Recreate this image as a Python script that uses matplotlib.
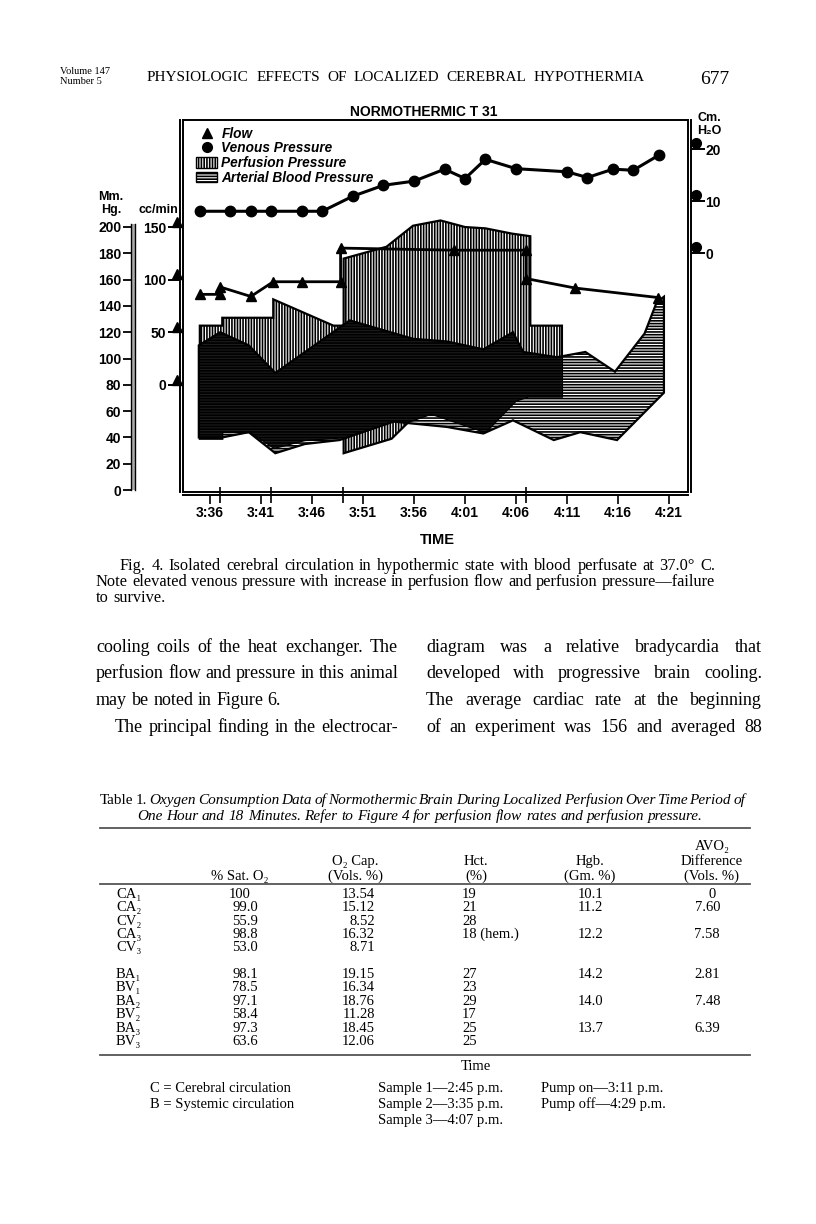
import numpy as np
import matplotlib
matplotlib.use('Agg')
import matplotlib.pyplot as plt
from matplotlib.lines import Line2D
from matplotlib.patches import Patch

W, H = 816, 1224
plt.rcParams['hatch.linewidth'] = 1.2

# ---- chart data, time in minutes after 3:36 p.m. ----
time_labels = ['3:36', '3:41', '3:46', '3:51', '3:56', '4:01', '4:06', '4:11', '4:16', '4:21']
time_ticks = [0, 5, 10, 15, 20, 25, 30, 35, 40, 45]
event_ticks = [1, 6, 13, 31]

flow_t = [-1, 1, 1, 4, 6.2, 9, 12.8, 12.8, 23.9, 31, 31, 35.8, 43.9]
flow_cc = [86, 86, 93, 84, 98, 98, 98, 130, 128, 128, 101, 92, 83]

venous_t = [-1, 2, 4, 6, 9, 11, 14, 17, 20, 23, 25, 27, 30, 35, 37, 39.5, 41.5, 44]
venous_cm = [8.1, 8.1, 8.1, 8.1, 8.1, 8.1, 11.0, 13.1, 13.9, 16.2, 14.4, 18.1,
             16.3, 15.7, 14.6, 16.2, 16.0, 18.9]

# perfusion pressure band (mm Hg)
perf_hi_t = [-1, 1.2, 1.2, 6.2, 6.2, 12.1, 13.1, 13.1, 17.3, 19.9, 22.6, 25.0, 27.0, 29.6, 31.4, 31.4, 34.5]
perf_hi = [125, 125, 131, 131, 145, 125, 125, 176, 185, 201, 205, 200, 199, 195, 193, 125, 125]
perf_lo_t = [-1, 1.2, 1.2, 4.0, 6.3, 9.3, 13.1, 13.1, 17.8, 19.5, 21.7, 27.0, 30.0, 31.2, 34.5]
perf_lo = [39, 39, 44, 44, 32, 38, 40, 28, 39, 52, 58, 44, 68, 71, 71]

# arterial blood pressure band (mm Hg)
art_hi_t = [-1.1, 1.0, 3.8, 6.4, 13.7, 19.9, 23.2, 26.8, 29.7, 30.7, 34.0, 36.8, 39.7, 42.6, 43.8, 44.5]
art_hi = [110, 120, 110, 89, 129, 115, 113, 107, 120, 105, 101, 105, 90, 119, 143, 147]
art_lo_t = [-1.1, 1.2, 3.8, 6.4, 9.3, 12.7, 18.0, 23.2, 26.8, 29.7, 33.7, 36.3, 39.9, 44.5]
art_lo = [40, 40, 44, 28, 35, 38, 52, 48, 43, 53, 38, 44, 38, 74]

mmhg_ticks = list(range(0, 201, 20))
cc_ticks = [0, 50, 100, 150]
h2o_ticks = [0, 10, 20]

# ---- table data ----
row_names = ['CA₁', 'CA₂', 'CV₂', 'CA₃', 'CV₃', 'BA₁', 'BV₁', 'BA₂', 'BV₂', 'BA₃', 'BV₃']
sat_o2 = ['100', '99.0', '55.9', '98.8', '53.0', '98.1', '78.5', '97.1', '58.4', '97.3', '63.6']
o2_cap = ['13.54', '15.12', '8.52', '16.32', '8.71', '19.15', '16.34', '18.76', '11.28', '18.45', '12.06']
hct = ['19', '21', '28', '18 (hem.)', '', '27', '23', '29', '17', '25', '25']
hgb = ['10.1', '11.2', '', '12.2', '', '14.2', '', '14.0', '', '13.7', '']
avo2 = ['0', '7.60', '', '7.58', '', '2.81', '', '7.48', '', '6.39', '']


def cc2mm(c):
    return 80 + 0.8 * np.asarray(c, dtype=float)


def mm2cc(m):
    return (np.asarray(m, dtype=float) - 80) / 0.8


def cm2mm(c):
    return 180 + 3.95 * np.asarray(c, dtype=float)


def mm2cm(m):
    return (np.asarray(m, dtype=float) - 180) / 3.95


def fx(x):
    return x / W


def fy(y):
    return 1 - y / H


fig = plt.figure(figsize=(W / 100, H / 100), dpi=100)
fig.patch.set_facecolor('white')
sans = ['Liberation Sans', 'DejaVu Sans']
serif = ['Liberation Serif', 'DejaVu Serif']

# ---- chart ----
ax = fig.add_axes([fx(183), fy(492), 505 / W, 372 / H])
ax.set_xlim(-2.65, 46.86)
ax.set_ylim(-1.5, 281.4)
ax.set_xticks([])
ax.set_yticks([])
for s in ax.spines.values():
    s.set_linewidth(1.4)

perf_x = np.r_[perf_hi_t, perf_lo_t[::-1]]
perf_y = np.r_[perf_hi, perf_lo[::-1]]
art_x = np.r_[art_hi_t, art_lo_t[::-1]]
art_y = np.r_[art_hi, art_lo[::-1]]

perf_poly = ax.fill(perf_x, perf_y, facecolor='white', edgecolor='black',
                    hatch='||||||', lw=1.6, zorder=2)[0]
# where both bands overlap the print is nearly solid black
overlap = ax.fill(art_x, art_y, facecolor='#1c1c1c', edgecolor='none', zorder=2.5)[0]
overlap.set_clip_path(perf_poly)
ax.fill(art_x, art_y, facecolor='none', edgecolor='black', hatch='------', lw=1.6, zorder=3)
ax.plot(flow_t, cc2mm(flow_cc), '-^', color='black', lw=2, ms=7, zorder=5)
ax.plot(venous_t, cm2mm(venous_cm), '-o', color='black', lw=2.2, ms=7.5, zorder=5)

# markers beside the flow and venous scales
ax.plot(np.full(len(cc_ticks), -3.25), cc2mm(cc_ticks) + 4, '^', color='black', ms=7, clip_on=False)
ax.plot(np.full(len(h2o_ticks), 47.65), cm2mm(h2o_ticks) + 5, 'o', color='black', ms=7, clip_on=False)

sec_cc = ax.secondary_yaxis(-0.006, functions=(mm2cc, cc2mm))
sec_cc.set_yticks(cc_ticks, [str(v) for v in cc_ticks], fontweight='bold', fontsize=10, family=sans)
sec_cc.tick_params(length=9, width=1.4, pad=1)
sec_cc.spines['left'].set_linewidth(1.4)

sec_h = ax.secondary_yaxis(1.006, functions=(mm2cm, cm2mm))
sec_h.set_yticks(h2o_ticks, [str(v) for v in h2o_ticks], fontweight='bold', fontsize=10, family=sans)
sec_h.tick_params(length=10, width=1.4, pad=0.5)
sec_h.spines['right'].set_linewidth(1.4)

sec_t = ax.secondary_xaxis(-0.008)
sec_t.set_xticks(time_ticks, time_labels, fontweight='bold', fontsize=10, family=sans)
sec_t.set_xticks(event_ticks, minor=True)
sec_t.tick_params(which='major', length=6.5, width=1.2, pad=1.5)
sec_t.tick_params(which='minor', direction='inout', length=11, width=1.2)
sec_t.spines['bottom'].set_linewidth(1.4)

axm = fig.add_axes([fx(131), fy(490), 4 / W, 266 / H])
axm.set_ylim(0, 266 / 1.315)
axm.set_facecolor('#aaaaaa')
axm.set_xticks([])
axm.set_yticks(mmhg_ticks, [str(v) for v in mmhg_ticks], fontweight='bold', fontsize=10, family=sans)
axm.tick_params(length=6, width=1.3, pad=1)
for k in ['top', 'bottom']:
    axm.spines[k].set_visible(False)
for k in ['left', 'right']:
    axm.spines[k].set_linewidth(1)

handles = [Line2D([], [], marker='^', ls='none', color='black', ms=7),
           Line2D([], [], marker='o', ls='none', color='black', ms=7),
           Patch(facecolor='white', edgecolor='black', hatch='||||||'),
           Patch(facecolor='white', edgecolor='black', hatch='------')]
ax.legend(handles, ['Flow', 'Venous Pressure', 'Perfusion Pressure', 'Arterial Blood Pressure'],
          loc='upper left', bbox_to_anchor=(0.025, 0.982), frameon=False,
          prop=dict(family=sans, weight='bold', style='italic', size=9.8),
          handlelength=1.6, handleheight=0.8, handletextpad=0.3, labelspacing=0.05,
          borderpad=0, borderaxespad=0)

fig.text(fx(424), fy(112), 'NORMOTHERMIC T 31', ha='center', va='center', weight='bold', size=10, family=sans)
fig.text(fx(111), fy(197), 'Mm.', ha='center', va='center', weight='bold', size=9, family=sans)
fig.text(fx(111), fy(210), 'Hg.', ha='center', va='center', weight='bold', size=9, family=sans)
fig.text(fx(178), fy(210), 'cc/min', ha='right', va='center', weight='bold', size=9, family=sans)
fig.text(fx(697), fy(118), 'Cm.', ha='left', va='center', weight='bold', size=9, family=sans)
fig.text(fx(697), fy(131), 'H₂O', ha='left', va='center', weight='bold', size=9, family=sans)
fig.text(fx(437), fy(540), 'TIME', ha='center', va='center', weight='bold', size=10.5, family=sans)

# ---- page text ----
renderer = fig.canvas.get_renderer()


def put_line(text, x0, x1, yb, size, styles=None, justify=True, ha='left'):
    words = text.split()
    objs = []
    for i, w in enumerate(words):
        st = styles[i] if styles and i < len(styles) else 'normal'
        objs.append(fig.text(0, fy(yb), w, size=size, family=serif, style=st, va='baseline'))
    widths = [o.get_window_extent(renderer).width for o in objs]
    if justify and len(words) > 1:
        gap = (x1 - x0 - sum(widths)) / (len(words) - 1)
    else:
        gap = size * 0.25 * 100 / 72
    total = sum(widths) + gap * (len(words) - 1)
    x = x0 if ha == 'left' else x0 - total / 2
    for o, w in zip(objs, widths):
        o.set_x(fx(x))
        x += w + gap


fig.text(fx(60), fy(74), 'Volume 147', size=7.5, family=serif, va='baseline')
fig.text(fx(60), fy(84), 'Number 5', size=7.5, family=serif, va='baseline')
put_line('PHYSIOLOGIC EFFECTS OF LOCALIZED CEREBRAL HYPOTHERMIA', 147, 645, 81, 11)
fig.text(fx(700), fy(84), '677', size=14, family=serif, va='baseline')

cap_size = 11.8
put_line('Fig. 4. Isolated cerebral circulation in hypothermic state with blood perfusate at 37.0° C.',
         120, 715, 570, cap_size)
put_line('Note elevated venous pressure with increase in perfusion flow and perfusion pressure\u2014failure',
         96, 715, 586, cap_size)
put_line('to survive.', 96, 715, 602, cap_size, justify=False)

col1 = ['cooling coils of the heat exchanger. The', 'perfusion flow and pressure in this animal',
        'may be noted in Figure 6.', 'The principal finding in the electrocar-']
col2 = ['diagram was a relative bradycardia that', 'developed with progressive brain cooling.',
        'The average cardiac rate at the beginning', 'of an experiment was 156 and averaged 88']
body_y = [652, 678, 705, 732]
for i, yb in enumerate(body_y):
    put_line(col1[i], 115 if i == 3 else 96, 398, yb, 13, justify=(i != 2))
    put_line(col2[i], 426, 762, yb, 13)

put_line('Table 1. Oxygen Consumption Data of Normothermic Brain During Localized Perfusion Over Time Period of',
         100, 745, 804, 11, styles=['normal', 'normal'] + ['italic'] * 20)
put_line('One Hour and 18 Minutes. Refer to Figure 4 for perfusion flow rates and perfusion pressure.',
         420, 420, 820, 11, styles=['italic'] * 20, justify=False, ha='center')

# rules
for yr in [828, 884, 1055]:
    fig.add_artist(Line2D([fx(100), fx(750)], [fy(yr), fy(yr)], color='#555555', lw=1.3))

tsize = 10.5
hdr = [(712, 850, 'AVO₂'), (355, 865, 'O₂ Cap.'), (476, 865, 'Hct.'), (590, 865, 'Hgb.'),
       (712, 865, 'Difference'), (240, 880, '% Sat. O₂'), (355, 880, '(Vols. %)'), (476, 880, '(%)'),
       (590, 880, '(Gm. %)'), (712, 880, '(Vols. %)')]
for x, yb, t in hdr:
    fig.text(fx(x), fy(yb), t, size=tsize, family=serif, ha='center', va='baseline')

row_y = [898, 911, 925, 938, 951, 978, 991, 1005, 1018, 1032, 1045]
for i, yb in enumerate(row_y):
    fig.text(fx(116), fy(yb), row_names[i], size=tsize, family=serif, va='baseline')
    s = sat_o2[i]
    fig.text(fx(258 if '.' in s else 251), fy(yb), s, size=tsize, family=serif, ha='right', va='baseline')
    fig.text(fx(375), fy(yb), o2_cap[i], size=tsize, family=serif, ha='right', va='baseline')
    fig.text(fx(462), fy(yb), hct[i], size=tsize, family=serif, va='baseline')
    fig.text(fx(578), fy(yb), hgb[i], size=tsize, family=serif, va='baseline')
    a = avo2[i]
    fig.text(fx(720 if '.' in a else 716), fy(yb), a, size=tsize, family=serif, ha='right', va='baseline')

fig.text(fx(476), fy(1070), 'Time', size=tsize, family=serif, ha='center', va='baseline')
notes = [(150, 1092, 'C = Cerebral circulation'), (150, 1108, 'B = Systemic circulation'),
         (378, 1092, 'Sample 1\u20142:45 p.m.'), (378, 1108, 'Sample 2\u20143:35 p.m.'),
         (378, 1124, 'Sample 3\u20144:07 p.m.'), (541, 1092, 'Pump on\u20143:11 p.m.'),
         (541, 1108, 'Pump off\u20144:29 p.m.')]
for x, yb, t in notes:
    fig.text(fx(x), fy(yb), t, size=tsize, family=serif, va='baseline')

fig.savefig('out.png', dpi=100, facecolor='white')
